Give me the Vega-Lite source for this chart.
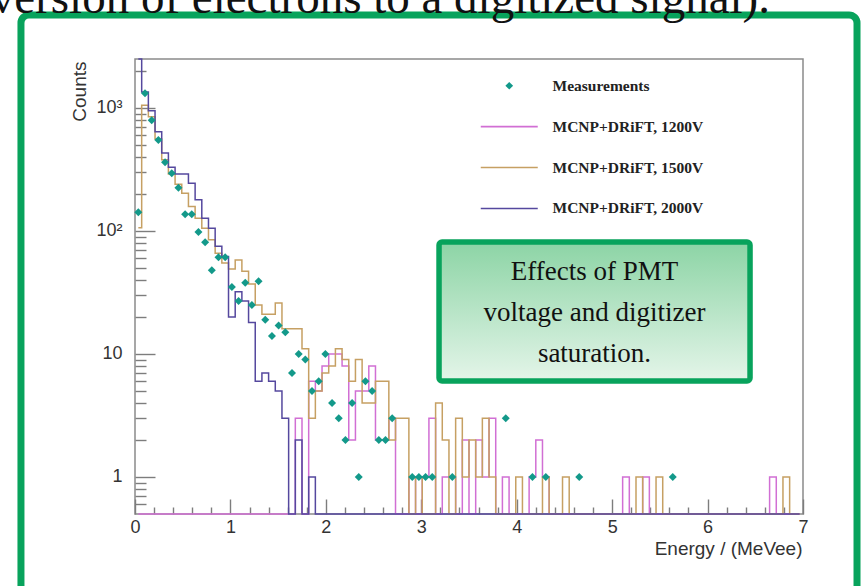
{
  "$schema": "https://vega.github.io/schema/vega-lite/v6.json",
  "width": 668,
  "height": 455,
  "autosize": {"type": "none"},
  "padding": {"left": 135, "top": 59, "right": 61, "bottom": 72},
  "background": "white",
  "config": {
    "view": {"stroke": "#8a8a8a", "strokeWidth": 1.5},
    "axis": {
      "labelFont": "Liberation Sans",
      "titleFont": "Liberation Sans",
      "labelFontSize": 18,
      "titleFontSize": 19,
      "labelColor": "#333333",
      "titleColor": "#333333",
      "titleFontWeight": "normal",
      "domain": false,
      "grid": false,
      "tickColor": "#7d7d7d",
      "tickWidth": 1.4
    }
  },
  "datasets": {
    "spectrum": [
      {"E": 0.035, "meas": 142, "v1200": 0, "v1500": 106, "v2000": 3500},
      {"E": 0.105, "meas": 1317, "v1200": 0, "v1500": 1050, "v2000": 1350},
      {"E": 0.175, "meas": 796, "v1200": 0, "v1500": 850, "v2000": 950},
      {"E": 0.245, "meas": 550, "v1200": 0, "v1500": 560, "v2000": 640},
      {"E": 0.315, "meas": 362, "v1200": 0, "v1500": 380, "v2000": 430},
      {"E": 0.385, "meas": 294, "v1200": 0, "v1500": 290, "v2000": 330},
      {"E": 0.455, "meas": 225, "v1200": 0, "v1500": 240, "v2000": 290},
      {"E": 0.525, "meas": 137, "v1200": 0, "v1500": 203, "v2000": 290},
      {"E": 0.595, "meas": 137, "v1200": 0, "v1500": 158, "v2000": 244},
      {"E": 0.665, "meas": 98, "v1200": 0, "v1500": 127, "v2000": 179},
      {"E": 0.735, "meas": 81, "v1200": 0, "v1500": 105, "v2000": 127},
      {"E": 0.805, "meas": 48, "v1200": 0, "v1500": 85, "v2000": 105},
      {"E": 0.875, "meas": 61, "v1200": 0, "v1500": 66, "v2000": 75},
      {"E": 0.945, "meas": 61, "v1200": 0, "v1500": 55, "v2000": 62},
      {"E": 1.015, "meas": 35, "v1200": 0, "v1500": 49, "v2000": 20},
      {"E": 1.085, "meas": 27, "v1200": 0, "v1500": 58, "v2000": 32},
      {"E": 1.155, "meas": 38, "v1200": 0, "v1500": 47, "v2000": 27},
      {"E": 1.225, "meas": 25, "v1200": 0, "v1500": 37, "v2000": 18},
      {"E": 1.295, "meas": 39, "v1200": 0, "v1500": 25, "v2000": 6},
      {"E": 1.365, "meas": 19, "v1200": 0, "v1500": 21, "v2000": 7},
      {"E": 1.435, "meas": 14, "v1200": 0, "v1500": 21, "v2000": 6},
      {"E": 1.505, "meas": 17, "v1200": 0, "v1500": 26, "v2000": 5},
      {"E": 1.575, "meas": 15, "v1200": 0, "v1500": 16, "v2000": 3},
      {"E": 1.645, "meas": 7, "v1200": 0, "v1500": 16, "v2000": 0},
      {"E": 1.715, "meas": 10, "v1200": 3, "v1500": 16, "v2000": 2},
      {"E": 1.785, "meas": 9, "v1200": 0, "v1500": 11, "v2000": 0},
      {"E": 1.855, "meas": 5, "v1200": 6, "v1500": 3, "v2000": 1},
      {"E": 1.925, "meas": 6, "v1200": 5, "v1500": 5, "v2000": 0},
      {"E": 1.995, "meas": 10, "v1200": 8, "v1500": 7, "v2000": 0},
      {"E": 2.065, "meas": 4, "v1200": 10, "v1500": 8, "v2000": 0},
      {"E": 2.135, "meas": 3, "v1200": 10, "v1500": 11, "v2000": 0},
      {"E": 2.205, "meas": 2, "v1200": 8, "v1500": 9, "v2000": 0},
      {"E": 2.275, "meas": 4, "v1200": 2, "v1500": 6, "v2000": 0},
      {"E": 2.345, "meas": 1, "v1200": 5, "v1500": 9, "v2000": 0},
      {"E": 2.415, "meas": 6, "v1200": 5, "v1500": 4, "v2000": 0},
      {"E": 2.485, "meas": 5, "v1200": 8, "v1500": 4, "v2000": 0},
      {"E": 2.555, "meas": 2, "v1200": 2, "v1500": 6, "v2000": 0},
      {"E": 2.625, "meas": 2, "v1200": 2, "v1500": 6, "v2000": 0},
      {"E": 2.695, "meas": 3, "v1200": 3, "v1500": 2, "v2000": 0},
      {"E": 2.765, "meas": null, "v1200": 0, "v1500": 3, "v2000": 0},
      {"E": 2.835, "meas": null, "v1200": 0, "v1500": 3, "v2000": 0},
      {"E": 2.905, "meas": 1, "v1200": 1, "v1500": 0, "v2000": 0},
      {"E": 2.975, "meas": 1, "v1200": 0, "v1500": 1, "v2000": 0},
      {"E": 3.045, "meas": 1, "v1200": 1, "v1500": 0, "v2000": 0},
      {"E": 3.115, "meas": 1, "v1200": 3, "v1500": 0, "v2000": 0},
      {"E": 3.185, "meas": null, "v1200": 0, "v1500": 4, "v2000": 0},
      {"E": 3.255, "meas": null, "v1200": 1, "v1500": 2, "v2000": 0},
      {"E": 3.325, "meas": 1, "v1200": 1, "v1500": 0, "v2000": 0},
      {"E": 3.395, "meas": null, "v1200": 0, "v1500": 3, "v2000": 0},
      {"E": 3.465, "meas": null, "v1200": 2, "v1500": 1, "v2000": 0},
      {"E": 3.535, "meas": null, "v1200": 0, "v1500": 2, "v2000": 0},
      {"E": 3.605, "meas": null, "v1200": 2, "v1500": 1, "v2000": 0},
      {"E": 3.675, "meas": null, "v1200": 1, "v1500": 3, "v2000": 0},
      {"E": 3.745, "meas": null, "v1200": 3, "v1500": 1, "v2000": 0},
      {"E": 3.815, "meas": null, "v1200": 0, "v1500": 0, "v2000": 0},
      {"E": 3.885, "meas": 3, "v1200": 1, "v1500": 0, "v2000": 0},
      {"E": 3.955, "meas": null, "v1200": 0, "v1500": 0, "v2000": 0},
      {"E": 4.025, "meas": null, "v1200": 0, "v1500": 1, "v2000": 0},
      {"E": 4.095, "meas": null, "v1200": 0, "v1500": 0, "v2000": 0},
      {"E": 4.165, "meas": 1, "v1200": 1, "v1500": 0, "v2000": 0},
      {"E": 4.235, "meas": null, "v1200": 2, "v1500": 0, "v2000": 0},
      {"E": 4.305, "meas": 1, "v1200": 1, "v1500": 1, "v2000": 0},
      {"E": 4.375, "meas": null, "v1200": 0, "v1500": 0, "v2000": 0},
      {"E": 4.445, "meas": null, "v1200": 0, "v1500": 0, "v2000": 0},
      {"E": 4.515, "meas": null, "v1200": 0, "v1500": 1, "v2000": 0},
      {"E": 4.585, "meas": null, "v1200": 0, "v1500": 0, "v2000": 0},
      {"E": 4.655, "meas": 1, "v1200": 0, "v1500": 0, "v2000": 0},
      {"E": 4.725, "meas": null, "v1200": 0, "v1500": 0, "v2000": 0},
      {"E": 4.795, "meas": null, "v1200": 0, "v1500": 0, "v2000": 0},
      {"E": 4.865, "meas": null, "v1200": 0, "v1500": 0, "v2000": 0},
      {"E": 4.935, "meas": null, "v1200": 0, "v1500": 0, "v2000": 0},
      {"E": 5.005, "meas": null, "v1200": 0, "v1500": 0, "v2000": 0},
      {"E": 5.075, "meas": null, "v1200": 0, "v1500": 0, "v2000": 0},
      {"E": 5.145, "meas": null, "v1200": 1, "v1500": 0, "v2000": 0},
      {"E": 5.215, "meas": null, "v1200": 0, "v1500": 0, "v2000": 0},
      {"E": 5.285, "meas": null, "v1200": 0, "v1500": 1, "v2000": 0},
      {"E": 5.355, "meas": null, "v1200": 1, "v1500": 0, "v2000": 0},
      {"E": 5.425, "meas": null, "v1200": 0, "v1500": 0, "v2000": 0},
      {"E": 5.495, "meas": null, "v1200": 0, "v1500": 1, "v2000": 0},
      {"E": 5.565, "meas": null, "v1200": 0, "v1500": 0, "v2000": 0},
      {"E": 5.635, "meas": 1, "v1200": 0, "v1500": 0, "v2000": 0},
      {"E": 5.705, "meas": null, "v1200": 0, "v1500": 0, "v2000": 0},
      {"E": 5.775, "meas": null, "v1200": 0, "v1500": 0, "v2000": 0},
      {"E": 5.845, "meas": null, "v1200": 0, "v1500": 0, "v2000": 0},
      {"E": 5.915, "meas": null, "v1200": 0, "v1500": 0, "v2000": 0},
      {"E": 5.985, "meas": null, "v1200": 0, "v1500": 0, "v2000": 0},
      {"E": 6.055, "meas": null, "v1200": 0, "v1500": 0, "v2000": 0},
      {"E": 6.125, "meas": null, "v1200": 0, "v1500": 0, "v2000": 0},
      {"E": 6.195, "meas": null, "v1200": 0, "v1500": 0, "v2000": 0},
      {"E": 6.265, "meas": null, "v1200": 0, "v1500": 0, "v2000": 0},
      {"E": 6.335, "meas": null, "v1200": 0, "v1500": 0, "v2000": 0},
      {"E": 6.405, "meas": null, "v1200": 0, "v1500": 0, "v2000": 0},
      {"E": 6.475, "meas": null, "v1200": 0, "v1500": 0, "v2000": 0},
      {"E": 6.545, "meas": null, "v1200": 0, "v1500": 0, "v2000": 0},
      {"E": 6.615, "meas": null, "v1200": 0, "v1500": 0, "v2000": 0},
      {"E": 6.685, "meas": null, "v1200": 1, "v1500": 0, "v2000": 0},
      {"E": 6.755, "meas": null, "v1200": 0, "v1500": 0, "v2000": 0},
      {"E": 6.825, "meas": null, "v1200": 0, "v1500": 1, "v2000": 0},
      {"E": 6.895, "meas": null, "v1200": 0, "v1500": 0, "v2000": 0},
      {"E": 6.965, "meas": null, "v1200": 0, "v1500": 0, "v2000": 0}
    ]
  },
  "data": {"name": "spectrum"},
  "resolve": {
    "scale": {"y": "independent"},
    "axis": {"x": "independent", "y": "independent"}
  },
  "layer": [
    {
      "transform": [{"fold": ["v1200", "v1500", "v2000"], "as": ["series", "counts"]}],
      "mark": {"type": "line", "interpolate": "step", "strokeWidth": 1.5, "invalid": "show", "clip": false},
      "encoding": {
        "x": {
          "field": "E",
          "type": "quantitative",
          "scale": {"domain": [0, 7], "nice": false, "zero": false},
          "axis": {
            "orient": "bottom",
            "values": [0, 1, 2, 3, 4, 5, 6, 7],
            "format": "d",
            "tickSize": -15,
            "labelPadding": 28,
            "labelBaseline": "middle",
            "labelFlush": false,
            "title": "Energy / (MeVee)",
            "titleAnchor": "end",
            "titleAlign": "right",
            "titleBaseline": "middle",
            "titleX": 667,
            "titleY": 34
          }
        },
        "y": {
          "field": "counts",
          "type": "quantitative",
          "scale": {"type": "log", "domain": [0.5, 2500], "nice": false, "clamp": true},
          "axis": {
            "orient": "left",
            "values": [1, 10, 100, 1000],
            "labelExpr": "datum.value > 999 ? '10³' : datum.value > 99 ? '10²' : datum.value > 9 ? '10' : '1'",
            "tickSize": -20,
            "labelPadding": 33,
            "labelFlush": false,
            "title": "Counts",
            "titleAnchor": "end",
            "titleAngle": -90,
            "titleAlign": "right",
            "titleBaseline": "middle",
            "titleX": -56,
            "titleY": 2
          }
        },
        "color": {
          "field": "series",
          "type": "nominal",
          "scale": {
            "domain": ["meas", "v1200", "v1500", "v2000"],
            "range": ["#13998a", "#d16fd4", "#c6a063", "#55489e"]
          },
          "legend": {
            "title": null,
            "orient": "none",
            "legendX": 366.5,
            "legendY": 19,
            "direction": "vertical",
            "padding": 0,
            "symbolType": "stroke",
            "symbolSize": 100,
            "symbolStrokeWidth": 1.6,
            "labelFont": "Liberation Serif",
            "labelFontWeight": "bold",
            "labelFontSize": 15.5,
            "labelColor": "#222222",
            "labelOffset": 35.5,
            "rowPadding": 23.9,
            "labelExpr": "datum.value === 'meas' ? 'Measurements' : datum.value === 'v1200' ? 'MCNP+DRiFT, 1200V' : datum.value === 'v1500' ? 'MCNP+DRiFT, 1500V' : 'MCNP+DRiFT, 2000V'",
            "encode": {
              "symbols": {
                "update": {
                  "shape": {"signal": "datum.value === 'meas' ? 'diamond' : 'stroke'"},
                  "size": {"signal": "datum.value === 'meas' ? 60 : 3249"},
                  "fill": {"signal": "datum.value === 'meas' ? '#13998a' : 'transparent'"},
                  "strokeWidth": {"signal": "datum.value === 'meas' ? 0 : 1.6"}
                }
              }
            }
          }
        }
      }
    },
    {
      "mark": {"type": "point", "shape": "diamond", "filled": true, "size": 64, "opacity": 1},
      "encoding": {
        "x": {
          "field": "E",
          "type": "quantitative",
          "scale": {"domain": [0, 7], "nice": false, "zero": false},
          "axis": {
            "orient": "bottom",
            "values": [0.2, 0.4, 0.6, 0.8, 1.2, 1.4, 1.6, 1.8, 2.2, 2.4, 2.6, 2.8, 3.2, 3.4, 3.6, 3.8, 4.2, 4.4, 4.6, 4.8, 5.2, 5.4, 5.6, 5.8, 6.2, 6.4, 6.6, 6.8],
            "labels": false,
            "tickSize": -7,
            "title": null
          }
        },
        "y": {
          "field": "meas",
          "type": "quantitative",
          "scale": {"type": "log", "domain": [0.5, 2500], "nice": false},
          "axis": {
            "orient": "left",
            "values": [0.6, 0.7, 0.8, 0.9, 2, 3, 4, 5, 6, 7, 8, 9, 20, 30, 40, 50, 60, 70, 80, 90, 200, 300, 400, 500, 600, 700, 800, 900, 2000],
            "labels": false,
            "tickSize": -11,
            "title": null
          }
        },
        "color": {"datum": "meas", "type": "nominal"}
      }
    },
    {
      "data": {"values": [{}]},
      "layer": [
        {
          "mark": {"type": "rect", "fill": null, "fillOpacity": 0, "stroke": "#08a35c", "strokeWidth": 7, "cornerRadius": 8},
          "encoding": {
            "x": {"datum": -1.195, "type": "quantitative", "scale": {"domain": [0, 7], "nice": false, "zero": false}, "axis": null},
            "x2": {"datum": 7.566},
            "y": {"datum": 5700, "type": "quantitative", "scale": {"type": "log", "domain": [0.5, 2500], "nice": false}, "axis": null},
            "y2": {"datum": 0.1}
          }
        },
        {
          "mark": {
            "type": "rect",
            "stroke": "#08a35c",
            "strokeWidth": 5.5,
            "cornerRadius": 3,
            "fill": {
              "gradient": "linear",
              "x1": 0, "y1": 0, "x2": 0, "y2": 1,
              "stops": [
                {"offset": 0, "color": "#8cd4a5"},
                {"offset": 1, "color": "#e4f5e9"}
              ]
            }
          },
          "encoding": {
            "x": {"datum": 3.186, "type": "quantitative", "scale": {"domain": [0, 7], "nice": false, "zero": false}, "axis": null},
            "x2": {"datum": 6.445},
            "y": {"datum": 81.4, "type": "quantitative", "scale": {"type": "log", "domain": [0.5, 2500], "nice": false}, "axis": null},
            "y2": {"datum": 6.03}
          }
        },
        {
          "mark": {
            "type": "text",
            "font": "Liberation Serif",
            "fontSize": 27,
            "lineHeight": 41,
            "align": "center",
            "baseline": "middle",
            "color": "#111111",
            "text": ["Effects of PMT", "voltage and digitizer", "saturation."]
          },
          "encoding": {
            "x": {"datum": 4.815, "type": "quantitative", "scale": {"domain": [0, 7], "nice": false, "zero": false}, "axis": null},
            "y": {"datum": 46.4, "type": "quantitative", "scale": {"type": "log", "domain": [0.5, 2500], "nice": false}, "axis": null}
          }
        },
        {
          "mark": {
            "type": "text",
            "font": "Liberation Serif",
            "fontSize": 47,
            "align": "right",
            "baseline": "alphabetic",
            "color": "#111111",
            "text": "conversion of electrons to a digitized signal)."
          },
          "encoding": {
            "x": {"datum": 6.654, "type": "quantitative", "scale": {"domain": [0, 7], "nice": false, "zero": false}, "axis": null},
            "y": {"datum": 5900, "type": "quantitative", "scale": {"type": "log", "domain": [0.5, 2500], "nice": false}, "axis": null}
          }
        }
      ]
    }
  ]
}
